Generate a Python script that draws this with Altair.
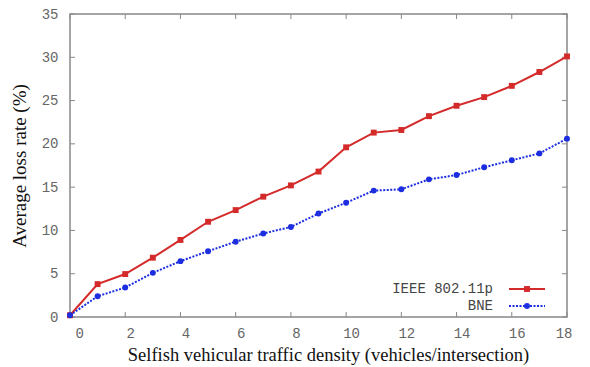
import altair as alt
import pandas as pd

density = list(range(0, 19))
ieee = [0.2, 3.8, 4.96, 6.85, 8.9, 11.0, 12.35, 13.9, 15.2, 16.8, 19.6, 21.3, 21.6, 23.2, 24.4, 25.4, 26.7, 28.3, 30.1]
bne = [0.2, 2.4, 3.4, 5.1, 6.45, 7.6, 8.7, 9.65, 10.4, 11.95, 13.2, 14.6, 14.75, 15.9, 16.4, 17.3, 18.1, 18.9, 20.6]
x_ticks = [0, 2, 4, 6, 8, 10, 12, 14, 16, 18]
y_ticks = [0, 5, 10, 15, 20, 25, 30, 35]
series_names = ["IEEE 802.11p", "BNE"]

W, H = 497, 303
RED = "#d42a2a"
BLUE = "#1c2ee0"

df = pd.DataFrame({
    "x": density * 2,
    "y": ieee + bne,
    "s": [series_names[0]] * len(density) + [series_names[1]] * len(density),
})

xs = alt.Scale(domain=[0, 18], nice=False)
ys = alt.Scale(domain=[0, 35], nice=False)

mono = "Liberation Mono"
serif = "Liberation Serif"

x_axis = alt.Axis(values=x_ticks, ticks=False, domain=False, grid=False, labelFont=mono,
                  labelFontSize=14, labelColor="#666", labelPadding=9, labelOffset=5,
                  title="Selfish vehicular traffic density (vehicles/intersection)",
                  titleFont=serif, titleFontSize=18.5, titleFontWeight="normal", titleColor="#111",
                  titlePadding=5, titleX=258)
y_axis = alt.Axis(values=y_ticks, ticks=False, domain=False, grid=False, labelFont=mono,
                  labelFontSize=14, labelColor="#666", labelPadding=12,
                  title="Average loss rate (%)", titleFont=serif, titleFontSize=19,
                  titleFontWeight="normal", titleColor="#111", titlePadding=12)

base = alt.Chart(df)

ieee_line = base.transform_filter(alt.datum.s == series_names[0]).mark_line(color=RED, strokeWidth=2).encode(
    x=alt.X("x:Q", scale=xs, axis=x_axis), y=alt.Y("y:Q", scale=ys, axis=y_axis))
ieee_pts = base.transform_filter(alt.datum.s == series_names[0]).mark_point(
    shape="square", filled=True, color=RED, size=35, opacity=1).encode(x=alt.X("x:Q", scale=xs), y=alt.Y("y:Q", scale=ys))
bne_line = base.transform_filter(alt.datum.s == series_names[1]).mark_line(
    color=BLUE, strokeWidth=2, strokeDash=[2, 1.5]).encode(x=alt.X("x:Q", scale=xs), y=alt.Y("y:Q", scale=ys))
bne_pts = base.transform_filter(alt.datum.s == series_names[1]).mark_point(
    shape="circle", filled=True, color=BLUE, size=35, opacity=1).encode(x=alt.X("x:Q", scale=xs), y=alt.Y("y:Q", scale=ys))

xt = pd.DataFrame({"v": x_ticks})
yt = pd.DataFrame({"v": y_ticks})
tick_color = "#888"
xb = alt.Chart(xt).mark_rule(color=tick_color, strokeWidth=1).encode(x=alt.X("v:Q", scale=xs), y=alt.value(H), y2=alt.value(H - 5))
xtop = alt.Chart(xt).mark_rule(color=tick_color, strokeWidth=1).encode(x=alt.X("v:Q", scale=xs), y=alt.value(0), y2=alt.value(5))
yl = alt.Chart(yt).mark_rule(color=tick_color, strokeWidth=1).encode(y=alt.Y("v:Q", scale=ys), x=alt.value(0), x2=alt.value(5))
yr = alt.Chart(yt).mark_rule(color=tick_color, strokeWidth=1).encode(y=alt.Y("v:Q", scale=ys), x=alt.value(W), x2=alt.value(W - 5))

# legend
leg0 = pd.DataFrame({"s": [series_names[0]]})
leg1 = pd.DataFrame({"s": [series_names[1]]})
txt = dict(align="right", baseline="middle", font=mono, fontSize=14, color="#444")
leg_text0 = alt.Chart(leg0).mark_text(**txt).encode(text="s:N", x=alt.value(423), y=alt.value(275))
leg_text1 = alt.Chart(leg1).mark_text(**txt).encode(text="s:N", x=alt.value(423), y=alt.value(292))
leg_red = alt.Chart(leg0).mark_rule(color=RED, strokeWidth=2).encode(
    x=alt.value(439), x2=alt.value(475), y=alt.value(275))
leg_red_pt = alt.Chart(leg0).mark_point(shape="square", filled=True, color=RED, size=35, opacity=1).encode(
    x=alt.value(457), y=alt.value(275))
leg_blue = alt.Chart(leg1).mark_rule(color=BLUE, strokeWidth=2, strokeDash=[2, 1.5]).encode(
    x=alt.value(439), x2=alt.value(475), y=alt.value(292))
leg_blue_pt = alt.Chart(leg1).mark_point(shape="circle", filled=True, color=BLUE, size=35, opacity=1).encode(
    x=alt.value(457), y=alt.value(292))

chart = alt.layer(
    xb, xtop, yl, yr, ieee_line, bne_line, ieee_pts, bne_pts,
    leg_text0, leg_text1, leg_red, leg_red_pt, leg_blue, leg_blue_pt
).properties(
    width=W, height=H,
    autosize=alt.AutoSizeParams(type="none"),
    padding={"left": 70, "top": 14, "right": 23, "bottom": 50},
    background="white",
).configure_view(stroke="#888", strokeWidth=1.5)

chart.save("out.html", embed_options={"renderer": "svg", "actions": False})
